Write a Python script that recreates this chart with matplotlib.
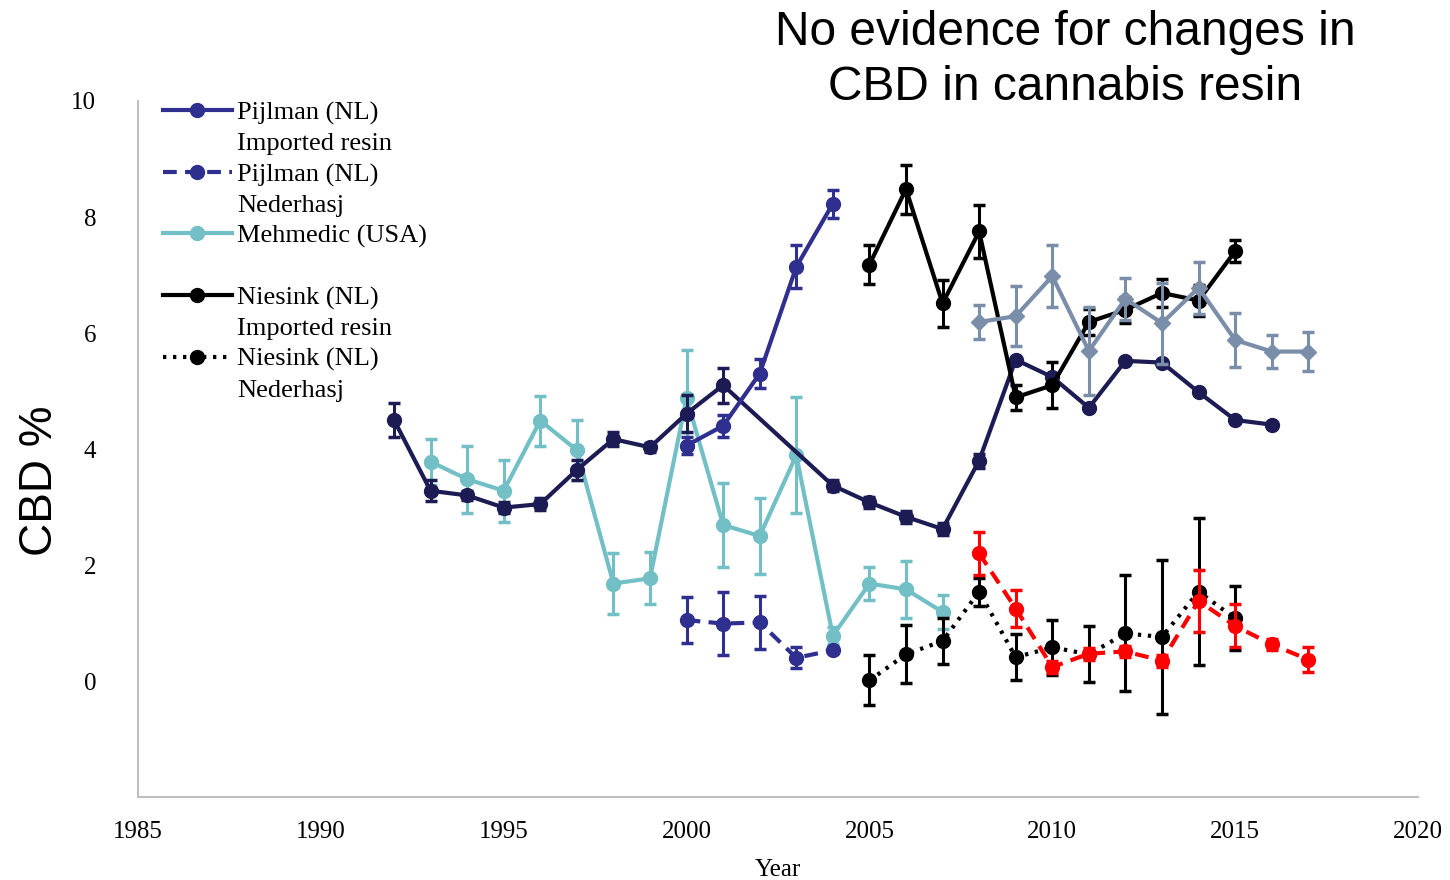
import matplotlib
matplotlib.use("Agg")
import matplotlib.pyplot as plt
from matplotlib.lines import Line2D

# ---- data ----
navy_years = [1992, 1993, 1994, 1995, 1996, 1997, 1998, 1999, 2000, 2001, 2004, 2005, 2006, 2007,
              2008, 2009, 2010, 2011, 2012, 2013, 2014, 2015, 2016]
navy_vals = [4.50, 3.28, 3.20, 2.99, 3.05, 3.64, 4.17, 4.03, 4.61, 5.10, 3.37, 3.08, 2.83, 2.62,
             3.80, 5.54, 5.24, 4.71, 5.52, 5.49, 4.98, 4.50, 4.42]
navy_err = [0.30, 0.18, 0.08, 0.10, 0.10, 0.17, 0.12, 0.08, 0.32, 0.30, 0.10, 0.10, 0.10, 0.10,
            0.12, 0, 0, 0, 0, 0, 0, 0, 0]

pij_imp_years = [2000, 2001, 2002, 2003, 2004]
pij_imp_vals = [4.06, 4.40, 5.30, 7.14, 8.23]
pij_imp_err = [0.15, 0.19, 0.25, 0.37, 0.24]

pij_ned_years = [2000, 2001, 2002, 2003, 2004]
pij_ned_vals = [1.05, 0.99, 1.01, 0.40, 0.53]
pij_ned_err = [0.40, 0.54, 0.45, 0.18, 0.05]

meh_years = [1993, 1994, 1995, 1996, 1997, 1998, 1999, 2000, 2001, 2002, 2003, 2004, 2005, 2006, 2007]
meh_vals = [3.78, 3.48, 3.28, 4.49, 3.98, 1.68, 1.77, 4.88, 2.69, 2.50, 3.89, 0.78, 1.68, 1.58, 1.19]
meh_err = [0.40, 0.58, 0.53, 0.43, 0.52, 0.53, 0.45, 0.82, 0.72, 0.65, 1.00, 0.15, 0.28, 0.49, 0.29]

nies_imp_years = [2005, 2006, 2007, 2008, 2009, 2010, 2011, 2012, 2013, 2014, 2015]
nies_imp_vals = [7.18, 8.48, 6.51, 7.75, 4.89, 5.10, 6.19, 6.40, 6.69, 6.56, 7.41]
nies_imp_err = [0.33, 0.42, 0.41, 0.45, 0.22, 0.40, 0.22, 0.22, 0.24, 0.27, 0.19]

nies_ned_years = [2005, 2006, 2007, 2008, 2009, 2010, 2011, 2012, 2013, 2014, 2015]
nies_ned_vals = [0.01, 0.46, 0.69, 1.54, 0.41, 0.58, 0.46, 0.82, 0.76, 1.54, 1.08]
nies_ned_err = [0.43, 0.50, 0.40, 0.24, 0.40, 0.47, 0.48, 1.00, 1.33, 1.27, 0.55]

gray_years = [2008, 2009, 2010, 2011, 2012, 2013, 2014, 2015, 2016, 2017]
gray_vals = [6.19, 6.29, 6.98, 5.69, 6.59, 6.17, 6.78, 5.88, 5.68, 5.68]
gray_err = [0.30, 0.52, 0.53, 0.76, 0.36, 0.70, 0.45, 0.46, 0.28, 0.34]

red_years = [2008, 2009, 2010, 2011, 2012, 2013, 2014, 2015, 2016, 2017]
red_vals = [2.20, 1.25, 0.24, 0.47, 0.51, 0.35, 1.38, 0.95, 0.63, 0.37]
red_err = [0.37, 0.32, 0.10, 0.10, 0.10, 0.10, 0.54, 0.37, 0.10, 0.21]

legend_labels = ["Pijlman (NL)", "Imported resin", "Pijlman (NL)", "Nederhasj", "Mehmedic (USA)", "",
                 "Niesink (NL)", "Imported resin", "Niesink (NL)", "Nederhasj"]
title_text = "No evidence for changes in\nCBD in cannabis resin"
xticks = [1985, 1990, 1995, 2000, 2005, 2010, 2015, 2020]
yticks = [0, 2, 4, 6, 8, 10]

# ---- colors / styles ----
C_NAVY = "#1c1b54"
C_BLUE = "#2e2f8e"
C_CYAN = "#72c0c5"
C_GRAY = "#7b8ea9"
C_BLACK = "#000000"
C_RED = "#ff0000"

SERIF = "Liberation Serif"
SANS = "Liberation Sans"

fig = plt.figure(figsize=(14.5, 8.8), dpi=100)
ax = fig.add_axes([138 / 1450, 1 - 797 / 880, (1418 - 138) / 1450, (797 - 101) / 880])

LW = 3
MS = 10
common = dict(elinewidth=2.2, capsize=4.5, capthick=2.5)
DOT = (0, (0.8, 1.6))
DASH = (0, (3.3, 2.0))


def series(x, y, e, color, ls="-", marker="o", ms=MS, z=2):
    ax.errorbar(x, y, yerr=e, color=color, ecolor=color, linestyle=ls, linewidth=LW,
                marker=marker, markersize=ms, zorder=z, **common)


series(meh_years, meh_vals, meh_err, C_CYAN, z=2)
series(navy_years, navy_vals, navy_err, C_NAVY, z=3)
series(pij_imp_years, pij_imp_vals, pij_imp_err, C_BLUE, z=3)
series(pij_ned_years, pij_ned_vals, pij_ned_err, C_BLUE, ls=DASH, z=3)
series(nies_imp_years, nies_imp_vals, nies_imp_err, C_BLACK, z=3)
series(gray_years, gray_vals, gray_err, C_GRAY, marker="D", ms=8, z=4)
series(nies_ned_years, nies_ned_vals, nies_ned_err, C_BLACK, ls=DOT, z=3)
series(red_years, red_vals, red_err, C_RED, ls=DASH, z=4)

ax.set_xlim(1985, 2020)
ax.set_ylim(-2, 10)
ax.set_xticks(xticks)
ax.set_yticks(yticks)
ax.set_xticklabels([str(t) for t in xticks], fontfamily=SERIF, fontsize=18)
ax.set_yticklabels([str(t) for t in yticks], fontfamily=SERIF, fontsize=18)
ax.tick_params(axis="both", length=0)
ax.tick_params(axis="x", pad=17)
ax.tick_params(axis="y", pad=30)

for s in ["top", "right"]:
    ax.spines[s].set_visible(False)
for s in ["left", "bottom"]:
    ax.spines[s].set_color("#bfbfbf")
    ax.spines[s].set_linewidth(1.5)

ax.set_xlabel("Year", fontfamily=SERIF, fontsize=18, labelpad=12)
ax.set_ylabel("CBD %", fontfamily=SANS, fontsize=33)
ax.yaxis.set_label_coords((40 - 138) / 1280, (797 - 481) / 696)
ax.yaxis.label.set_va("center")

fig.text(1065 / 1450, 1 - 10 / 880, title_text, ha="center", va="top",
         fontfamily=SANS, fontsize=34.5, linespacing=1.3)

# legend: one row per text line, handle on the first line of each entry
blank = Line2D([], [], linestyle="none", marker=None)
handles = [
    Line2D([], [], color=C_BLUE, lw=LW, marker="o", markersize=MS), blank,
    Line2D([], [], color=C_BLUE, lw=LW, ls=DASH, marker="o", markersize=MS), blank,
    Line2D([], [], color=C_CYAN, lw=LW, marker="o", markersize=MS), blank,
    Line2D([], [], color=C_BLACK, lw=LW, marker="o", markersize=MS), blank,
    Line2D([], [], color=C_BLACK, lw=LW, ls=DOT, marker="o", markersize=MS), blank,
]
leg = ax.legend(handles, legend_labels, loc="upper left",
                bbox_to_anchor=(25 / 1280, 1.0), frameon=False, borderpad=0, borderaxespad=0,
                handlelength=2.6, handletextpad=0.2, labelspacing=0.27,
                prop={"family": SERIF, "size": 19})

fig.savefig("out.png", dpi=100)
